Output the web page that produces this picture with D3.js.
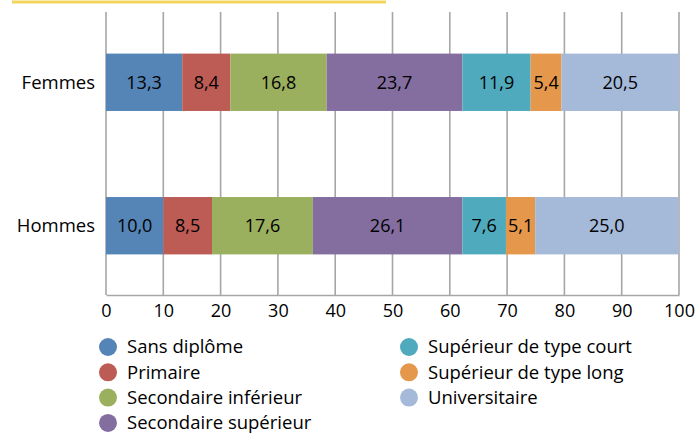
<!DOCTYPE html>
<html>
<head>
<meta charset="utf-8">
<script src="https://cdn.jsdelivr.net/npm/d3@7"></script>
<style>
body{margin:0;background:#fff;}
text{font-family:"Open Sans",sans-serif;}
</style>
</head>
<body>
<div id="chart"></div>
<script>
// niveaux de diplome
let categories = ["Sans diplôme","Primaire","Secondaire inférieur","Secondaire supérieur","Supérieur de type court","Supérieur de type long","Universitaire"]
let groups = ["Femmes","Hommes"]
let femmes = [13.3,8.4,16.8,23.7,11.9,5.4,20.5]
let hommes = [10.0,8.5,17.6,26.1,7.6,5.1,25.0]
let ticks = [0,10,20,30,40,50,60,70,80,90,100]
let colors = ["#5585b6","#bd5b55","#9bb05e","#846ea0","#4faabd","#e5974c","#a5b9d9"]

let svg = d3.select("#chart").append("svg")
	.attr("width",697)
	.attr("height",435)

// trait jaune en haut
svg.append("line")
	.attr("x1",12).attr("x2",386).attr("y1",2).attr("y2",2)
	.attr("stroke","#f3d55e").attr("stroke-width",3)

let xscale = d3.scaleLinear().domain([0,100]).range([106,679])
let yscale = d3.scaleBand().domain(groups).range([12,296]).paddingInner(0.6).paddingOuter(0.29)

// grille
svg.append("g").selectAll("line")
	.data(ticks)
	.enter().append("line")
	.attr("x1",d=>xscale(d)).attr("x2",d=>xscale(d))
	.attr("y1",12).attr("y2",295)
	.attr("stroke","#a6a6a6").attr("stroke-width",1.6)

let x_axis = d3.axisBottom(xscale).tickValues(ticks).tickSize(0).tickPadding(9)
let gx = svg.append("g").attr("transform","translate(0,295)").call(x_axis)
gx.select(".domain").attr("stroke","#a6a6a6").attr("stroke-width",1.6)
gx.selectAll("text").style("font-size","18px").attr("fill","#000")

let rows = [femmes,hommes]
rows.forEach(function(vals,r){
	let acc = 0
	let segs = vals.map(function(v,i){
		let s = {start:acc,value:v,i:i}
		acc += v
		return s
	})
	let g = svg.append("g")
	g.selectAll("rect")
		.data(segs)
		.enter().append("rect")
		.attr("x",d=>xscale(d.start))
		.attr("width",d=>xscale(d.start+d.value)-xscale(d.start))
		.attr("y",yscale(groups[r]))
		.attr("height",yscale.bandwidth())
		.attr("fill",d=>colors[d.i])
	g.selectAll("text")
		.data(segs)
		.enter().append("text")
		.attr("x",d=>xscale(d.start+d.value/2))
		.attr("y",yscale(groups[r])+yscale.bandwidth()/2)
		.attr("dy","0.35em")
		.style("text-anchor","middle")
		.style("font-size","18px")
		.text(d=>d3.format(".1f")(d.value).replace(".",","))
	svg.append("text")
		.attr("x",95)
		.attr("y",yscale(groups[r])+yscale.bandwidth()/2)
		.attr("dy","0.35em")
		.style("text-anchor","end")
		.style("font-size","18.5px")
		.text(groups[r])
})

// legende
let legend = svg.append("g").selectAll("g")
	.data(categories)
	.enter().append("g")
	.attr("transform",function(d,i){
		let col = i<4 ? 0 : 1
		let row = i<4 ? i : i-4
		return "translate("+(col==0?108:409)+","+(347+row*25.3)+")"
	})
legend.append("circle").attr("r",9).attr("fill",(d,i)=>colors[i])
legend.append("text")
	.attr("x",19).attr("dy","0.35em")
	.style("font-size","18.5px")
	.text(d=>d)
</script>
</body>
</html>
